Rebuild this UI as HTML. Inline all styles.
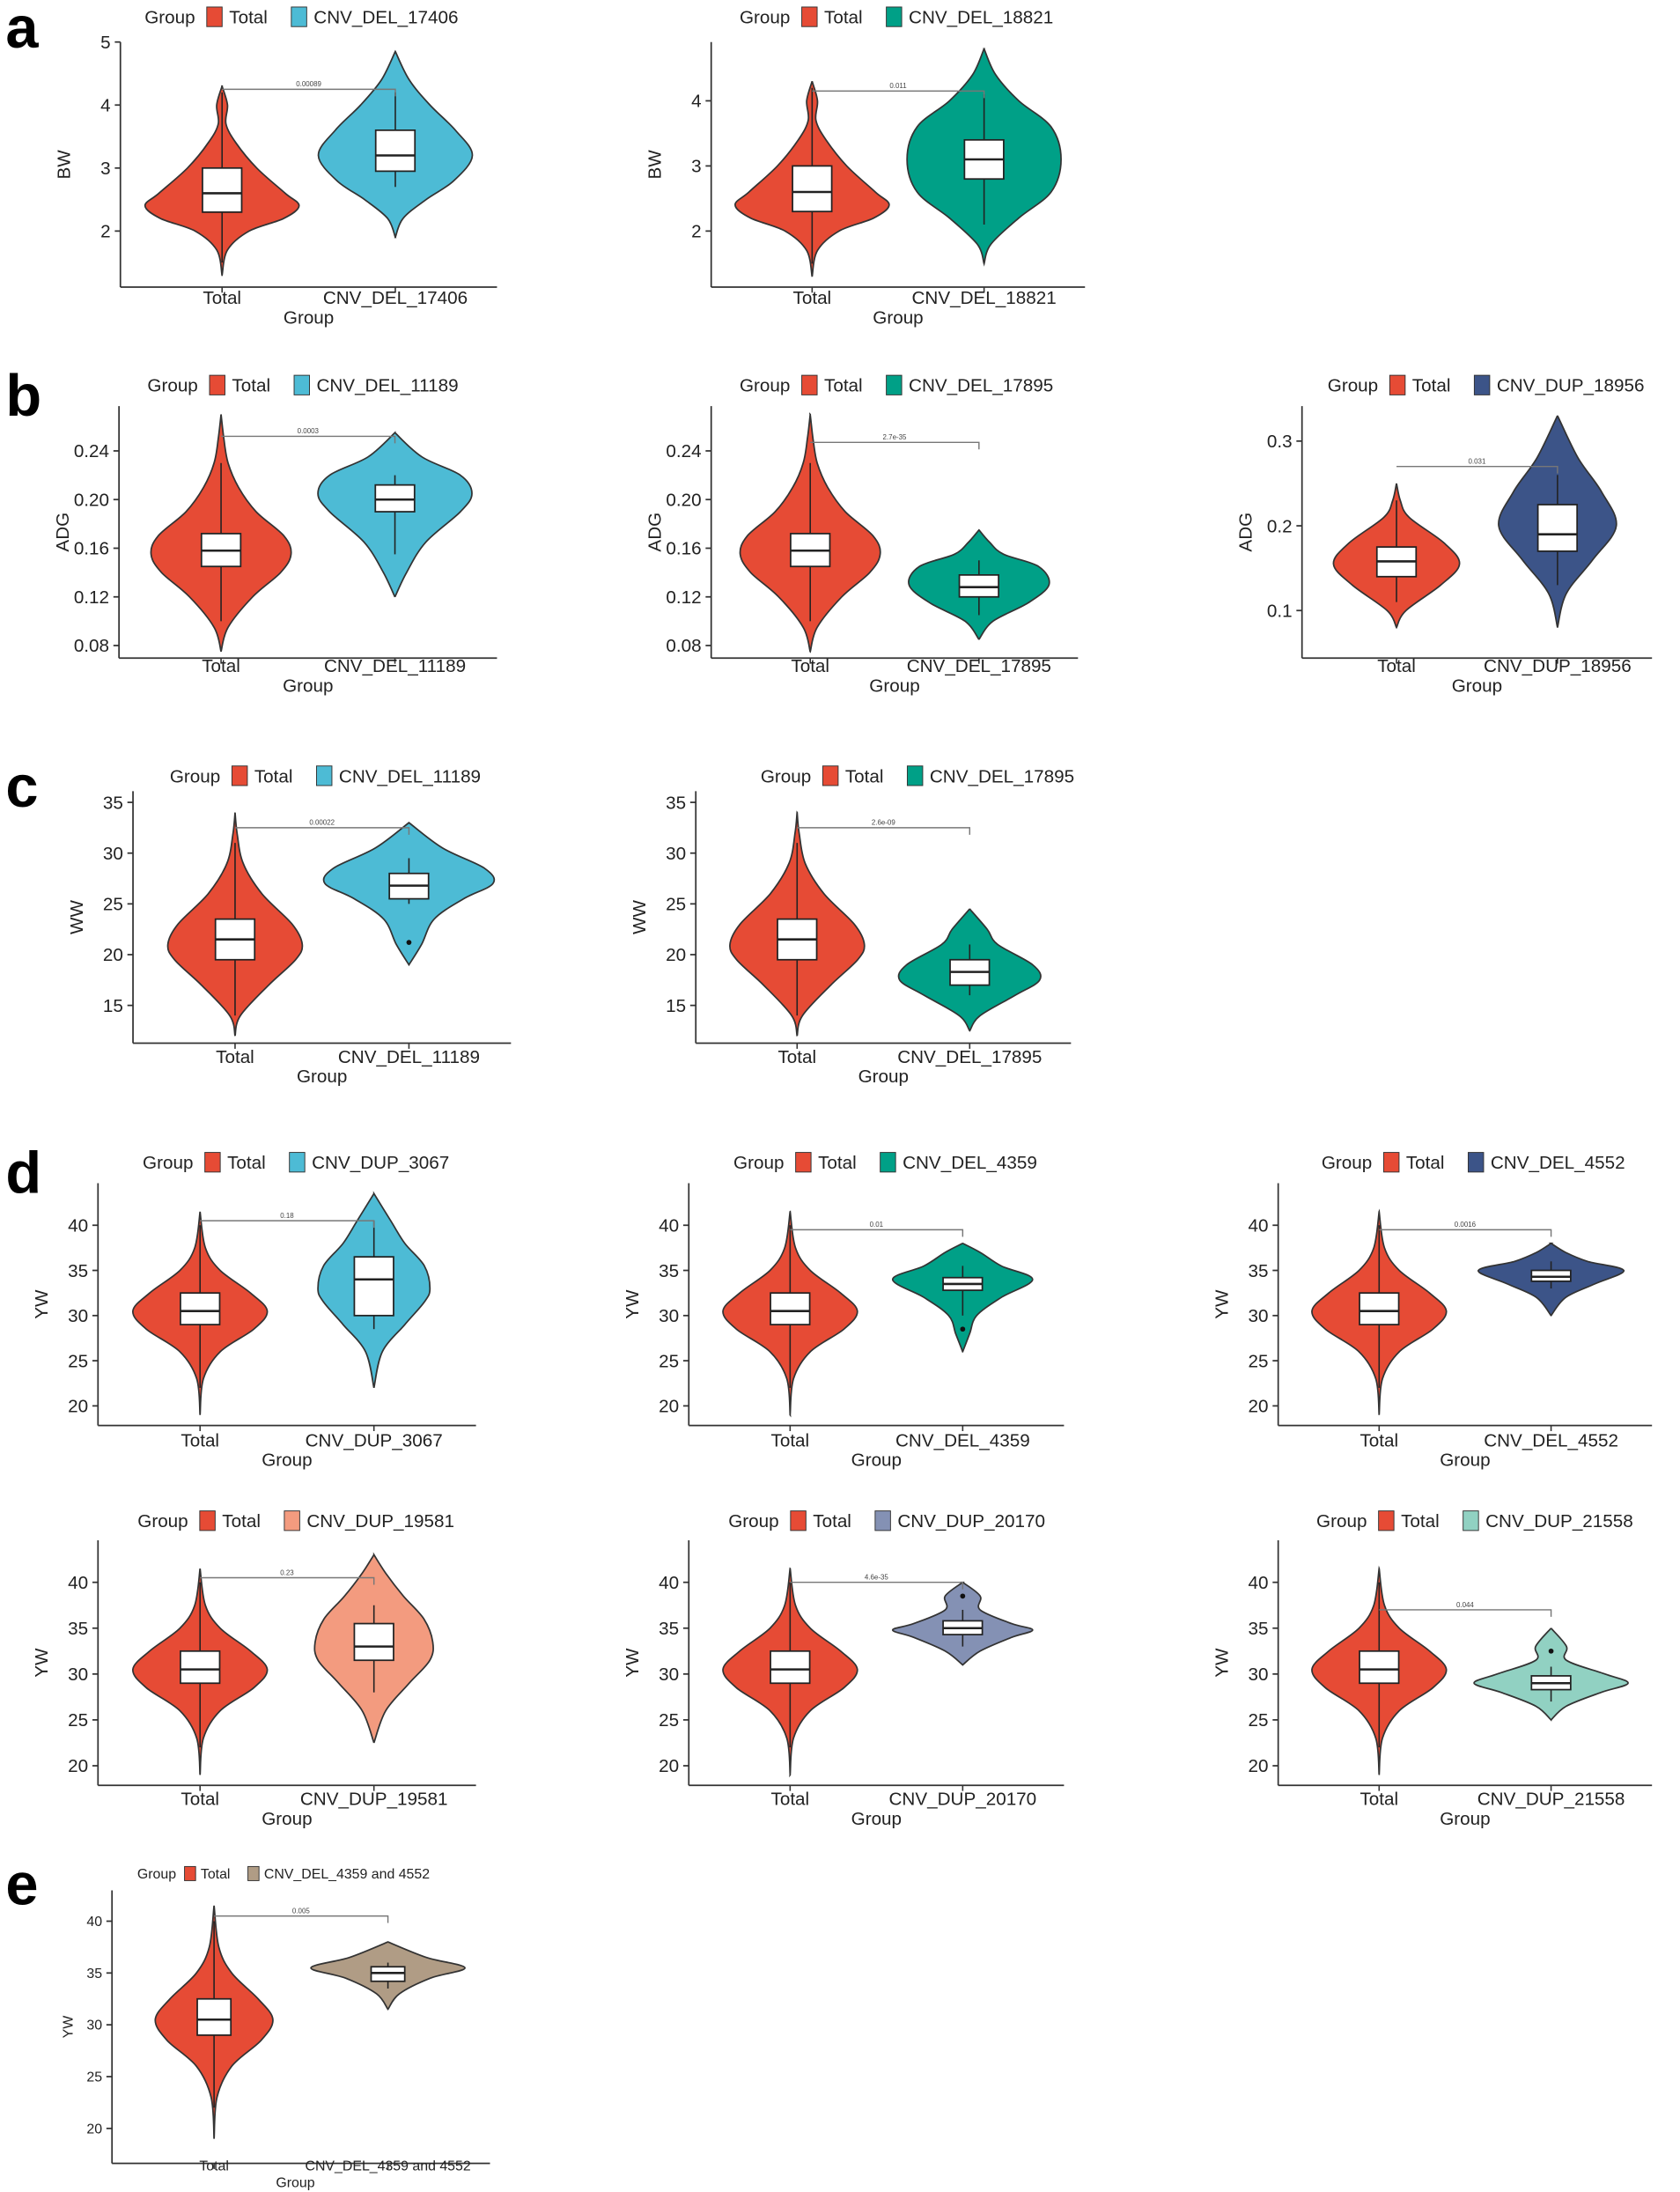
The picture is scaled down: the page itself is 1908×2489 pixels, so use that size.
<!DOCTYPE html>
<html><head><meta charset="utf-8">
<style>
html,body{margin:0;padding:0;background:#fff;}
svg{display:block;}
text{font-family:"Liberation Sans",sans-serif;}
</style></head>
<body>
<svg id="fig" width="1908" height="2489" viewBox="0 0 1200 1565.4" xmlns="http://www.w3.org/2000/svg">
<g id="root"></g>
</svg>
<script>
// ---- data ----
const panelNames = ["a1","a2","b1","b2","b3","c1","c2","d1","d2","d3","d4","d5","d6","e"];
const traits = ["BW","BW","ADG","ADG","ADG","WW","WW","YW","YW","YW","YW","YW","YW","YW"];
const groupLabels = ["CNV_DEL_17406","CNV_DEL_18821","CNV_DEL_11189","CNV_DEL_17895","CNV_DUP_18956","CNV_DEL_11189","CNV_DEL_17895","CNV_DUP_3067","CNV_DEL_4359","CNV_DEL_4552","CNV_DUP_19581","CNV_DUP_20170","CNV_DUP_21558","CNV_DEL_4359 and 4552"];
const groupColors = ["#4DBBD5","#00A087","#4DBBD5","#00A087","#3C5488","#4DBBD5","#00A087","#4DBBD5","#00A087","#3C5488","#F39B7F","#8491B4","#91D1C2","#B09C85"];
const pValues = ["0.00089","0.011","0.0003","2.7e-35","0.031","0.00022","2.6e-09","0.18","0.01","0.0016","0.23","4.6e-35","0.044","0.005"];
const pBracket = [4.25,4.15,0.252,0.247,0.27,32.5,32.5,40.5,39.5,39.5,40.5,40,37,40.5];
const yTicks = [[2,3,4,5],[2,3,4],[0.08,0.12,0.16,0.20,0.24],[0.08,0.12,0.16,0.20,0.24],[0.1,0.2,0.3],[15,20,25,30,35],[15,20,25,30,35],[20,25,30,35,40],[20,25,30,35,40],[20,25,30,35,40],[20,25,30,35,40],[20,25,30,35,40],[20,25,30,35,40],[20,25,30,35,40]];
const yTickLabels = [["2","3","4","5"],["2","3","4"],["0.08","0.12","0.16","0.20","0.24"],["0.08","0.12","0.16","0.20","0.24"],["0.1","0.2","0.3"],["15","20","25","30","35"],["15","20","25","30","35"],["20","25","30","35","40"],["20","25","30","35","40"],["20","25","30","35","40"],["20","25","30","35","40"],["20","25","30","35","40"],["20","25","30","35","40"],["20","25","30","35","40"]];
// violin densities: [value, relative half width]
const totalDens = [
 [[1.3,0],[1.7,.07],[2.0,.35],[2.2,.8],[2.4,1],[2.6,.82],[3.0,.45],[3.4,.18],[3.7,.05],[4.0,.07],[4.3,0]],
 [[1.3,0],[1.7,.07],[2.0,.35],[2.2,.8],[2.4,1],[2.6,.82],[3.0,.45],[3.4,.18],[3.7,.05],[4.0,.07],[4.3,0]],
 [[.075,0],[.095,.1],[.12,.45],[.14,.85],[.155,1],[.17,.9],[.19,.5],[.21,.25],[.23,.1],[.25,.04],[.27,0]],
 [[.075,0],[.095,.1],[.12,.45],[.14,.85],[.155,1],[.17,.9],[.19,.5],[.21,.25],[.23,.1],[.25,.04],[.27,0]],
 [[.08,0],[.1,.15],[.13,.7],[.155,1],[.18,.75],[.21,.2],[.23,.06],[.25,0]],
 [[12,0],[14,.08],[17,.5],[19.5,.9],[21,1],[23,.85],[26,.4],[29,.12],[32,.03],[34,0]],
 [[12,0],[14,.08],[17,.5],[19.5,.9],[21,1],[23,.85],[26,.4],[29,.12],[32,.03],[34,0]],
 [[19,0],[23,.05],[26,.3],[28.5,.8],[30.5,1],[32.5,.75],[35,.3],[37.5,.08],[41.5,0]],
 [[19,0],[23,.05],[26,.3],[28.5,.8],[30.5,1],[32.5,.75],[35,.3],[37.5,.08],[41.5,0]],
 [[19,0],[23,.05],[26,.3],[28.5,.8],[30.5,1],[32.5,.75],[35,.3],[37.5,.08],[41.5,0]],
 [[19,0],[23,.05],[26,.3],[28.5,.8],[30.5,1],[32.5,.75],[35,.3],[37.5,.08],[41.5,0]],
 [[19,0],[23,.05],[26,.3],[28.5,.8],[30.5,1],[32.5,.75],[35,.3],[37.5,.08],[41.5,0]],
 [[19,0],[23,.05],[26,.3],[28.5,.8],[30.5,1],[32.5,.75],[35,.3],[37.5,.08],[41.5,0]],
 [[19,0],[23,.05],[26,.3],[28.5,.8],[30.5,1],[32.5,.75],[35,.3],[37.5,.08],[41.5,0]]
];
const totalHalfWidth = [55,55,50,50,45,48,48,48,48,48,48,48,48,42];
const groupDens = [
 [[1.9,0],[2.2,.1],[2.5,.4],[2.8,.76],[3.2,1],[3.6,.78],[4.0,.45],[4.4,.18],[4.85,0]],
 [[1.5,0],[1.8,.09],[2.2,.45],[2.6,.87],[3.1,1],[3.6,.87],[4.0,.45],[4.4,.15],[4.8,0]],
 [[.12,0],[.14,.15],[.165,.4],[.19,.85],[.205,1],[.22,.85],[.235,.35],[.255,0]],
 [[.085,0],[.1,.2],[.115,.7],[.13,1],[.145,.85],[.155,.35],[.165,.15],[.175,0]],
 [[.08,0],[.12,.15],[.16,.6],[.2,1],[.24,.75],[.28,.35],[.33,0]],
 [[19,0],[21,.15],[23.5,.3],[25.5,.65],[27,1],[28.5,.9],[30.5,.4],[33,0]],
 [[12.5,0],[14,.15],[16,.65],[17.5,1],[19,.9],[21,.4],[22.5,.25],[24.5,0]],
 [[22,0],[26,.15],[29,.55],[31.5,.9],[33,1],[35.5,.9],[38,.55],[40.5,.3],[43.5,0]],
 [[26,0],[28,.1],[30,.2],[32,.55],[34,1],[35.5,.55],[37,.25],[38,0]],
 [[30,0],[32,.2],[33.5,.6],[35,1],[36,.5],[37,.2],[38,0]],
 [[22.5,0],[26,.2],[29,.6],[31.5,.95],[33.5,1],[36,.85],[38.5,.5],[41,.2],[43,0]],
 [[31,0],[32.5,.25],[34,.7],[34.8,1],[35.5,.7],[37,.25],[38.5,.25],[40,0]],
 [[25,0],[26.5,.2],[28,.65],[29,1],[30,.7],[31.5,.2],[33,.2],[35,0]],
 [[31.5,0],[33,.15],[34.5,.55],[35.5,1],[36.5,.5],[38,0]]
];
const groupHalfWidth = [55,55,55,50,42,60,50,40,50,52,42,50,55,55];
// box stats: [whiskerLo, q1, median, q3, whiskerHi]
const totalBox = [[1.5,2.3,2.6,3.0,4.2],[1.5,2.3,2.6,3.0,4.2],[.10,.145,.158,.172,.23],[.10,.145,.158,.172,.23],[.11,.14,.158,.175,.23],[14,19.5,21.5,23.5,31],[14,19.5,21.5,23.5,31],[22,29,30.5,32.5,40],[22,29,30.5,32.5,40],[22,29,30.5,32.5,40],[22,29,30.5,32.5,40],[22,29,30.5,32.5,40],[22,29,30.5,32.5,40],[22,29,30.5,32.5,40]];
const groupBox = [[2.7,2.95,3.2,3.6,4.2],[2.1,2.8,3.1,3.4,4.1],[.155,.19,.20,.212,.22],[.105,.12,.128,.138,.15],[.13,.17,.19,.225,.26],[25,25.5,26.8,28,29.5],[16,17,18.3,19.5,21],[28.5,30,34,36.5,40.5],[30,32.8,33.5,34.2,35.5],[33,33.8,34.3,35,36],[28,31.5,33,35.5,37.5],[33,34.3,35,35.8,37],[27,28.3,29,29.8,30.8],[33.5,34.2,35,35.6,36]];
const groupOutliers = [[],[],[],[],[],[21.2],[],[],[28.5],[],[],[38.5],[32.5],[]];

// ---- layout (not data) ----
const L = [
 {ax:86,top:30,bot:205,xe:355,t0:165,t1:30,lg:12,xl:212,tag:"a"},
 {ax:508,top:30,bot:205,xe:775,t0:165,t1:72,lg:12,xl:212},
 {ax:85,top:290,bot:470,xe:355,t0:461,t1:322,lg:275,xl:475,tag:"b"},
 {ax:508,top:290,bot:470,xe:770,t0:461,t1:322,lg:275,xl:475},
 {ax:930,top:290,bot:470,xe:1180,t0:436,t1:315,lg:275,xl:475},
 {ax:95,top:565,bot:745,xe:365,t0:718,t1:573,lg:554,xl:754,tag:"c"},
 {ax:497,top:565,bot:745,xe:765,t0:718,t1:573,lg:554,xl:754},
 {ax:70,top:845,bot:1018,xe:340,t0:1004,t1:875,lg:830,xl:1028,tag:"d"},
 {ax:492,top:845,bot:1018,xe:760,t0:1004,t1:875,lg:830,xl:1028},
 {ax:913,top:845,bot:1018,xe:1180,t0:1004,t1:875,lg:830,xl:1028},
 {ax:70,top:1100,bot:1275,xe:340,t0:1261,t1:1130,lg:1086,xl:1284},
 {ax:492,top:1100,bot:1275,xe:760,t0:1261,t1:1130,lg:1086,xl:1284},
 {ax:913,top:1100,bot:1275,xe:1180,t0:1261,t1:1130,lg:1086,xl:1284},
 {ax:80,top:1350,bot:1545,xe:350,t0:1520,t1:1372,lg:1338,xl:1546,tag:"e",small:true}
];
const NS="http://www.w3.org/2000/svg";
const root=document.getElementById('root');
function mk(tag,attrs,parent){const e=document.createElementNS(NS,tag);for(const k in attrs)e.setAttribute(k,attrs[k]);(parent||root).appendChild(e);return e;}
function smoothPath(pts){
 let d="M"+pts[0][0]+","+pts[0][1];
 for(let i=0;i<pts.length-1;i++){
  const p0=pts[Math.max(0,i-1)],p1=pts[i],p2=pts[i+1],p3=pts[Math.min(pts.length-1,i+2)];
  const c1=[p1[0]+(p2[0]-p0[0])/6,p1[1]+(p2[1]-p0[1])/6];
  const c2=[p2[0]-(p3[0]-p1[0])/6,p2[1]-(p3[1]-p1[1])/6];
  d+=" C"+c1[0].toFixed(1)+","+c1[1].toFixed(1)+" "+c2[0].toFixed(1)+","+c2[1].toFixed(1)+" "+p2[0].toFixed(1)+","+p2[1].toFixed(1);
 }
 return d;
}
function violin(g,cx,dens,hw,ys,color,name){
 const right=dens.map(p=>[cx+p[1]*hw,ys(p[0])]);
 const left=dens.map(p=>[cx-p[1]*hw,ys(p[0])]).reverse();
 const d=smoothPath(right)+" L"+left[0][0]+","+left[0][1]+" "+smoothPath(left).slice(1).replace(/^[^C]*/,"")+"Z";
 const p=mk('path',{d:d,fill:color,stroke:"#333",'stroke-width':1.1},g);
 
 
}
function box(g,cx,b,ys,w,name){
 const bg=mk('g',{},g);
 
 
 mk('line',{x1:cx,x2:cx,y1:ys(b[0]),y2:ys(b[4]),stroke:"#222",'stroke-width':1},bg);
 mk('rect',{x:cx-w/2,y:ys(b[3]),width:w,height:ys(b[1])-ys(b[3]),fill:"#fff",stroke:"#222",'stroke-width':1.1},bg);
 mk('line',{x1:cx-w/2,x2:cx+w/2,y1:ys(b[2]),y2:ys(b[2]),stroke:"#222",'stroke-width':1.6},bg);
}
panelNames.forEach((pn,i)=>{
 const l=L[i];
 const g=mk('g',{});
 
 
 const tk=yTicks[i];
 const v0=tk[0],v1=tk[tk.length-1];
 const ys=v=>l.t0+(v-v0)/(v1-v0)*(l.t1-l.t0);
 const xT=l.ax+(l.xe-l.ax)*0.27, xC=l.ax+(l.xe-l.ax)*0.73;
 const fs=l.small?10:13, lfs=l.small?10:13;
 if(l.tag){const t=mk('text',{x:4,y:l.lg+22,'font-size':42,'font-weight':'bold',fill:"#000"});t.textContent=l.tag;
  
  }
 const axg=mk('g',{stroke:"#333",'stroke-width':1.1},g);
 
 
 mk('line',{x1:l.ax,x2:l.ax,y1:l.top,y2:l.bot},axg);
 mk('line',{x1:l.ax,x2:l.xe,y1:l.bot,y2:l.bot},axg);
 tk.forEach((v,j)=>{
  mk('line',{x1:l.ax-4,x2:l.ax,y1:ys(v),y2:ys(v)},axg);
  const t=mk('text',{x:l.ax-7,y:ys(v)+fs*0.35,'font-size':fs,'text-anchor':'end',fill:"#222"},g);
  t.textContent=yTickLabels[i][j];
  
  
 });
 const yt=mk('text',{x:0,y:0,'font-size':lfs,'text-anchor':'middle',fill:"#222",transform:`translate(${l.ax-(l.small?28:36)},${(l.top+l.bot)/2}) rotate(-90)`},g);
 yt.textContent=traits[i];
 
 
 [[xT,"Total"],[xC,groupLabels[i]]].forEach(([x,s])=>{
  mk('line',{x1:x,x2:x,y1:l.bot,y2:l.bot+4,stroke:"#333"},g);
  const t=mk('text',{x:x,y:l.xl+(l.small?4:5),'font-size':fs,'text-anchor':'middle',fill:"#222"},g);
  t.textContent=s;
  
  
 });
 const xt=mk('text',{x:(l.ax+l.xe)/2-(l.small?4:0),y:l.xl+(l.small?16:19),'font-size':lfs,'text-anchor':'middle',fill:"#222"},g);
 xt.textContent="Group";
 
 
 violin(g,xT,totalDens[i],totalHalfWidth[i],ys,"#E64B35","total");
 violin(g,xC,groupDens[i],groupHalfWidth[i],ys,groupColors[i],"group");
 const bw=l.small?24:28;
 box(g,xT,totalBox[i],ys,bw,"total");
 box(g,xC,groupBox[i],ys,bw,"group");
 groupOutliers[i].forEach(o=>{const c=mk('circle',{cx:xC,cy:ys(o),r:1.8,fill:"#111"},g);
  
  });
 const by=ys(pBracket[i]);
 const br=mk('path',{d:`M${xT},${by} H${xC} V${by+5}`,fill:"none",stroke:"#777",'stroke-width':0.9},g);
 
 
 const pt=mk('text',{x:(xT+xC)/2,y:by-2,'font-size':5,'text-anchor':'middle',fill:"#444"},g);
 pt.textContent=pValues[i];
 
 
 const lg=mk('g',{},g);
 
 
 const s=l.small?0.72:1;
 const items=[["Group",null],["Total","#E64B35"],[groupLabels[i],groupColors[i]]];
 const cw=lfs*0.56;
 let total=0; items.forEach(([t,c])=>{total+=(c?16*s:0)+t.length*cw+8*s;});
 const cx0=[215,640,217,640,1060,233,655,210,632,1052,210,632,1052,205][i];
 let x=cx0-total/2;
 items.forEach(([t,c])=>{
  if(c){const r=mk('rect',{x:x,y:l.lg-7*s,width:11*s,height:14*s,fill:c,stroke:"#333",'stroke-width':0.6},lg);
   
   
   x+=16*s;}
  const tt=mk('text',{x:x,y:l.lg+lfs*0.36,'font-size':lfs,fill:"#222"},lg);
  tt.textContent=t;
  
  
  x+=t.length*cw+8*s;
 });
});
</script>
</body></html>
